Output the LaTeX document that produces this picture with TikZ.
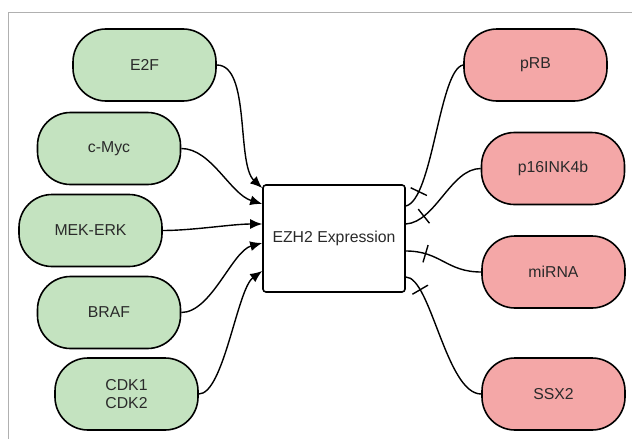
\documentclass[tikz,border=0pt]{standalone}
\usepackage{fontspec}
\setmainfont{Liberation Sans}
\usetikzlibrary{arrows.meta,calc,decorations.markings}
\definecolor{pillgreen}{HTML}{C4E3C0}
\definecolor{pillred}{HTML}{F4A7A7}
\definecolor{txt}{HTML}{2A2A2A}
\definecolor{frame}{HTML}{B0B0B0}
\begin{document}
\begin{tikzpicture}[x=1pt,y=-1pt,
  every node/.style={font=\fontsize{15.8}{19}\selectfont, text=txt},
  pill/.style={draw=black, line width=1.6pt, rounded corners=33pt, minimum width=143pt, minimum height=72pt, align=center, inner sep=0pt},
  green/.style={pill, fill=pillgreen},
  red/.style={pill, fill=pillred},
  centerbox/.style={draw=black, line width=1.6pt, rounded corners=3pt, fill=white, minimum width=142pt, minimum height=107pt, inner sep=0pt},
  act/.style={line width=1.4pt, -{Latex[length=12pt,width=10pt]}},
  inh/.style={line width=1.4pt, postaction={decorate}, decoration={markings, mark=at position 20pt with {\draw[line width=1.4pt] (0,-9) -- (0,9);}}}
]
\useasboundingbox (0,0) rectangle (632,439);
\draw[frame, line width=1pt] (8,439) -- (8,12) -- (632,12);

\node[centerbox] (ezh) at (334,238.5) {EZH2 Expression};

\node[green] (e2f)  at (144.5,65)  {E2F};
\node[green] (cmyc) at (109,148.5) {c-Myc};
\node[green] (mek)  at (90.5,230.5) {MEK-ERK};
\node[green] (braf) at (109,312.5) {BRAF};
\node[green] (cdk)  at (126.5,394) {CDK1\\[-1pt]CDK2};

\node[red] (prb)   at (535.5,65)  {pRB};
\node[red] (p16)   at (553,168.5) {p16INK4b};
\node[red] (mirna) at (553.5,272) {miRNA};
\node[red] (ssx)   at (553.5,394) {SSX2};

\coordinate (i1) at ($(ezh.west)+(0,-50.5)$);
\coordinate (i2) at ($(ezh.west)+(0,-34.5)$);
\coordinate (i3) at ($(ezh.west)+(0,-14.5)$);
\coordinate (i4) at ($(ezh.west)+(0,4.5)$);
\coordinate (i5) at ($(ezh.west)+(0,32.5)$);
\coordinate (o1) at ($(ezh.east)+(0,-32.5)$);
\coordinate (o2) at ($(ezh.east)+(0,-14.5)$);
\coordinate (o3) at ($(ezh.east)+(0,12.5)$);
\coordinate (o4) at ($(ezh.east)+(0,38.5)$);

\draw[act] (e2f.east) .. controls +(34,0) and +(-26,-24) .. (i1);
\draw[act] (cmyc.east) .. controls +(30,0) and +(-32,-10) .. (i2);
\draw[act] (mek.east) .. controls +(30,0) and +(-30,0) .. (i3);
\draw[act] (braf.east) .. controls +(30,0) and +(-30,8) .. (i4);
\draw[act] (cdk.east) .. controls +(25,0) and +(-25,18) .. (i5);

\draw[inh] (o1) .. controls +(27,-6) and +(-24,4) .. (prb.west);
\draw[inh] (o2) .. controls +(30,-2) and +(-30,0) .. (p16.west);
\draw[inh] (o3) .. controls +(35,0) and +(-35,0) .. (mirna.west);
\draw[inh] (o4) .. controls +(25,0) and +(-35,0) .. (ssx.west);
\end{tikzpicture}
\end{document}
